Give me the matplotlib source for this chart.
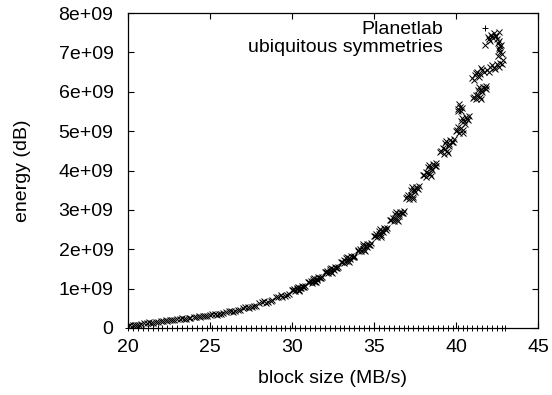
import numpy as np
import matplotlib
matplotlib.use('Agg')
import matplotlib.pyplot as plt

plt.rcParams['font.family'] = ['Liberation Sans', 'DejaVu Sans']

# x tick / y tick labels
x_ticks = [20, 25, 30, 35, 40, 45]
y_ticks = [0, 1e9, 2e9, 3e9, 4e9, 5e9, 6e9, 7e9, 8e9]
y_tick_labels = ['0', '1e+09', '2e+09', '3e+09', '4e+09', '5e+09', '6e+09', '7e+09', '8e+09']

# Planetlab: flat row along zero (values in 1e9)
planet_x = [20.0, 20.3, 20.6, 20.9, 21.2, 21.5, 21.8, 22.1, 22.4, 22.7, 23.0, 23.3,
            23.6, 23.9, 24.2, 24.5, 24.8, 25.1, 25.4, 25.7, 26.0, 26.3, 26.6, 26.9,
            27.2, 27.5, 27.8, 28.1, 28.4, 28.7, 29.0, 29.3, 29.6, 29.9, 30.2, 30.5,
            30.8, 31.1, 31.4, 31.7, 32.0, 32.3, 32.6, 32.9, 33.2, 33.5, 33.8, 34.1,
            34.4, 34.7, 35.0, 35.3, 35.6, 35.9, 36.2, 36.5, 36.8, 37.1, 37.4, 37.7,
            38.0, 38.3, 38.6, 38.9, 39.2, 39.5, 39.8, 40.1, 40.4, 40.7, 41.0, 41.3,
            41.6, 41.9, 42.2, 42.5, 42.8, 43.0]
planet_y = [0.002, 0.0, 0.003, 0.001, 0.0, 0.002, 0.001, 0.0, 0.003, 0.0, 0.001, 0.002,
            0.0, 0.001, 0.003, 0.0, 0.002, 0.001, 0.0, 0.002, 0.001, 0.003, 0.0, 0.001,
            0.002, 0.0, 0.001, 0.003, 0.0, 0.002, 0.001, 0.0, 0.002, 0.001, 0.0, 0.003,
            0.001, 0.0, 0.002, 0.001, 0.0, 0.002, 0.003, 0.0, 0.001, 0.002, 0.0, 0.001,
            0.003, 0.0, 0.002, 0.001, 0.0, 0.002, 0.001, 0.003, 0.0, 0.001, 0.002, 0.0,
            0.001, 0.003, 0.0, 0.002, 0.001, 0.0, 0.002, 0.001, 0.0, 0.003, 0.001, 0.0,
            0.002, 0.001, 0.0, 0.002, 0.001, 0.0]

# ubiquitous symmetries: rising staircase of clumps (values in 1e9)
sym_x = [20.0, 20.15, 20.3, 20.4, 20.55, 20.7, 20.8,
         21.0, 21.15, 21.3, 21.4, 21.55, 21.7, 21.8,
         22.0, 22.15, 22.3, 22.4, 22.55, 22.7, 22.8,
         23.0, 23.15, 23.3, 23.4, 23.55, 23.7, 23.8,
         24.0, 24.15, 24.3, 24.4, 24.55, 24.7, 24.8,
         25.0, 25.15, 25.3, 25.4, 25.55, 25.7, 25.8,
         26.0, 26.15, 26.3, 26.4, 26.55, 26.7, 26.8,
         27.0, 27.15, 27.3, 27.4, 27.55, 27.7, 27.8,
         28.0, 28.15, 28.3, 28.4, 28.55, 28.7, 28.8,
         29.0, 29.15, 29.3, 29.4, 29.55, 29.7, 29.8,
         30.0, 30.15, 30.3, 30.4, 30.55, 30.7, 30.8,
         30.05, 30.2, 30.35, 30.45, 30.6, 30.75, 30.5, 30.3,
         31.0, 31.15, 31.3, 31.4, 31.55, 31.7, 31.8,
         31.05, 31.2, 31.35, 31.45, 31.6, 31.75, 31.5, 31.3,
         32.0, 32.15, 32.3, 32.4, 32.55, 32.7, 32.8,
         32.05, 32.2, 32.35, 32.45, 32.6, 32.75, 32.5, 32.3,
         33.0, 33.15, 33.3, 33.4, 33.55, 33.7, 33.8,
         33.05, 33.2, 33.35, 33.45, 33.6, 33.75, 33.5, 33.3,
         34.0, 34.15, 34.3, 34.4, 34.55, 34.7, 34.8,
         34.05, 34.2, 34.35, 34.45, 34.6, 34.75, 34.5, 34.3,
         35.0, 35.15, 35.3, 35.4, 35.55, 35.7, 35.8,
         35.05, 35.2, 35.35, 35.45, 35.6, 35.75, 35.5, 35.3,
         36.0, 36.15, 36.3, 36.4, 36.55, 36.7, 36.8,
         36.05, 36.2, 36.35, 36.45, 36.6, 36.75, 36.5, 36.3,
         36.95, 37.1, 37.25, 37.35, 37.5, 37.65, 37.75,
         37.0, 37.15, 37.3, 37.4, 37.55, 37.7, 37.45, 37.25,
         38.0, 38.15, 38.3, 38.4, 38.55, 38.7, 38.8,
         38.05, 38.2, 38.35, 38.45, 38.6, 38.75, 38.5, 38.3,
         39.05, 39.2, 39.35, 39.45, 39.6, 39.75, 39.85,
         39.1, 39.25, 39.4, 39.5, 39.65, 39.8, 39.55, 39.35,
         40.0, 40.15, 40.3, 40.4, 40.55, 40.7, 40.8,
         40.05, 40.2, 40.35, 40.45, 40.6, 40.75, 40.5, 40.3,
         40.15, 40.25, 40.3, 40.2, 40.1, 40.35,
         41.05, 41.2, 41.35, 41.45, 41.6, 41.75, 41.85,
         41.1, 41.25, 41.4, 41.5, 41.65, 41.8, 41.55, 41.35,
         41.0, 41.15, 41.3, 41.45, 41.6, 41.1, 41.25, 41.4, 41.5, 41.7,
         41.9, 42.1, 42.3, 42.5, 42.7, 42.85, 42.0, 42.2, 42.4, 42.6, 42.8,
         42.55, 42.7, 42.6, 42.75, 42.65, 42.8, 42.6, 42.7, 42.55,
         42.0, 42.15, 42.3, 42.45, 42.6, 42.05, 42.2, 42.35, 42.5, 41.95]
sym_y = [0.063, 0.071, 0.083, 0.065, 0.077, 0.087, 0.093,
         0.123, 0.131, 0.143, 0.125, 0.137, 0.147, 0.153,
         0.178, 0.186, 0.198, 0.180, 0.192, 0.202, 0.208,
         0.220, 0.230, 0.245, 0.222, 0.237, 0.250, 0.257,
         0.272, 0.284, 0.302, 0.275, 0.293, 0.308, 0.317,
         0.332, 0.344, 0.362, 0.335, 0.353, 0.368, 0.377,
         0.409, 0.423, 0.444, 0.412, 0.433, 0.451, 0.462,
         0.506, 0.522, 0.546, 0.510, 0.534, 0.554, 0.566,
         0.630, 0.650, 0.680, 0.635, 0.665, 0.690, 0.705,
         0.780, 0.800, 0.830, 0.785, 0.815, 0.840, 0.855,
         0.958, 0.986, 1.028, 0.965, 1.007, 1.042, 1.063,
         0.963, 0.943, 1.050, 0.947, 1.057, 1.037, 1.027, 0.980,
         1.172, 1.204, 1.252, 1.180, 1.228, 1.268, 1.292,
         1.178, 1.155, 1.277, 1.159, 1.285, 1.262, 1.250, 1.198,
         1.416, 1.452, 1.506, 1.425, 1.479, 1.524, 1.551,
         1.422, 1.397, 1.534, 1.402, 1.543, 1.518, 1.504, 1.445,
         1.680, 1.720, 1.780, 1.690, 1.750, 1.800, 1.830,
         1.687, 1.659, 1.811, 1.664, 1.821, 1.793, 1.778, 1.712,
         1.968, 2.016, 2.088, 1.980, 2.052, 2.112, 2.148,
         1.976, 1.943, 2.125, 1.949, 2.137, 2.104, 2.086, 2.006,
         2.336, 2.392, 2.476, 2.350, 2.434, 2.504, 2.546,
         2.346, 2.307, 2.519, 2.314, 2.533, 2.494, 2.473, 2.381,
         2.740, 2.800, 2.890, 2.755, 2.845, 2.920, 2.965,
         2.750, 2.709, 2.937, 2.716, 2.952, 2.910, 2.887, 2.788,
         3.310, 3.390, 3.510, 3.330, 3.450, 3.550, 3.610,
         3.324, 3.268, 3.572, 3.278, 3.592, 3.536, 3.506, 3.374,
         3.880, 3.960, 4.080, 3.900, 4.020, 4.120, 4.180,
         3.894, 3.838, 4.142, 3.848, 4.162, 4.106, 4.076, 3.944,
         4.470, 4.560, 4.690, 4.490, 4.620, 4.730, 4.800,
         4.483, 4.422, 4.756, 4.433, 4.778, 4.717, 4.684, 4.538,
         5.000, 5.100, 5.250, 5.030, 5.180, 5.300, 5.380,
         5.018, 4.948, 5.328, 4.960, 5.353, 5.283, 5.245, 5.080,
         5.550, 5.620, 5.520, 5.680, 5.500, 5.580,
         5.850, 5.930, 6.050, 5.870, 5.990, 6.090, 6.150,
         5.864, 5.808, 6.112, 5.818, 6.132, 6.076, 6.046, 5.914,
         6.350, 6.420, 6.500, 6.440, 6.550, 6.300, 6.480, 6.380, 6.600, 6.500,
         6.550, 6.620, 6.600, 6.700, 6.720, 6.800, 6.500, 6.680, 6.580, 6.620, 6.700,
         6.900, 7.000, 7.100, 7.200, 7.300, 6.950, 7.050, 7.150, 7.250,
         7.350, 7.450, 7.500, 7.420, 7.520, 7.300, 7.380, 7.420, 7.350, 7.400]

fig = plt.figure(figsize=(5.52, 3.95), dpi=100)
ax = fig.add_axes([128/552, 67/395, 410/552, 315/395])

ax.plot(planet_x, np.array(planet_y)*1e9, ls='none', marker='+', ms=5, mew=0.7,
        color='black', label='Planetlab', clip_on=False)
ax.plot(sym_x, np.array(sym_y)*1e9, ls='none', marker='x', ms=5, mew=0.7,
        color='black', label='ubiquitous symmetries')

ax.set_xlim(20, 45)
ax.set_ylim(0, 8e9)
ax.set_xticks(x_ticks)
ax.set_xticklabels([str(t) for t in x_ticks])
ax.set_yticks(y_ticks)
ax.set_yticklabels(y_tick_labels)
ax.tick_params(direction='in', top=True, right=True, length=4, width=0.8,
               labelsize=14)
ax.tick_params(axis='x', pad=8)
ax.tick_params(axis='y', pad=10.5)
for s in ax.spines.values():
    s.set_linewidth(0.9)

ax.set_xlabel('block size (MB/s)', fontsize=14)
ax.xaxis.set_label_coords(0.5, -0.133)
ax.set_ylabel('energy (dB)', fontsize=14)
ax.yaxis.set_label_coords(-0.237, 0.5)

ax.legend(loc='upper right', bbox_to_anchor=(0.906, 0.975), frameon=False,
          markerfirst=False, fontsize=14, handlelength=1.5, handletextpad=1.42,
          borderpad=0, borderaxespad=0, labelspacing=-0.03)

fig.savefig('out.png', dpi=100)
